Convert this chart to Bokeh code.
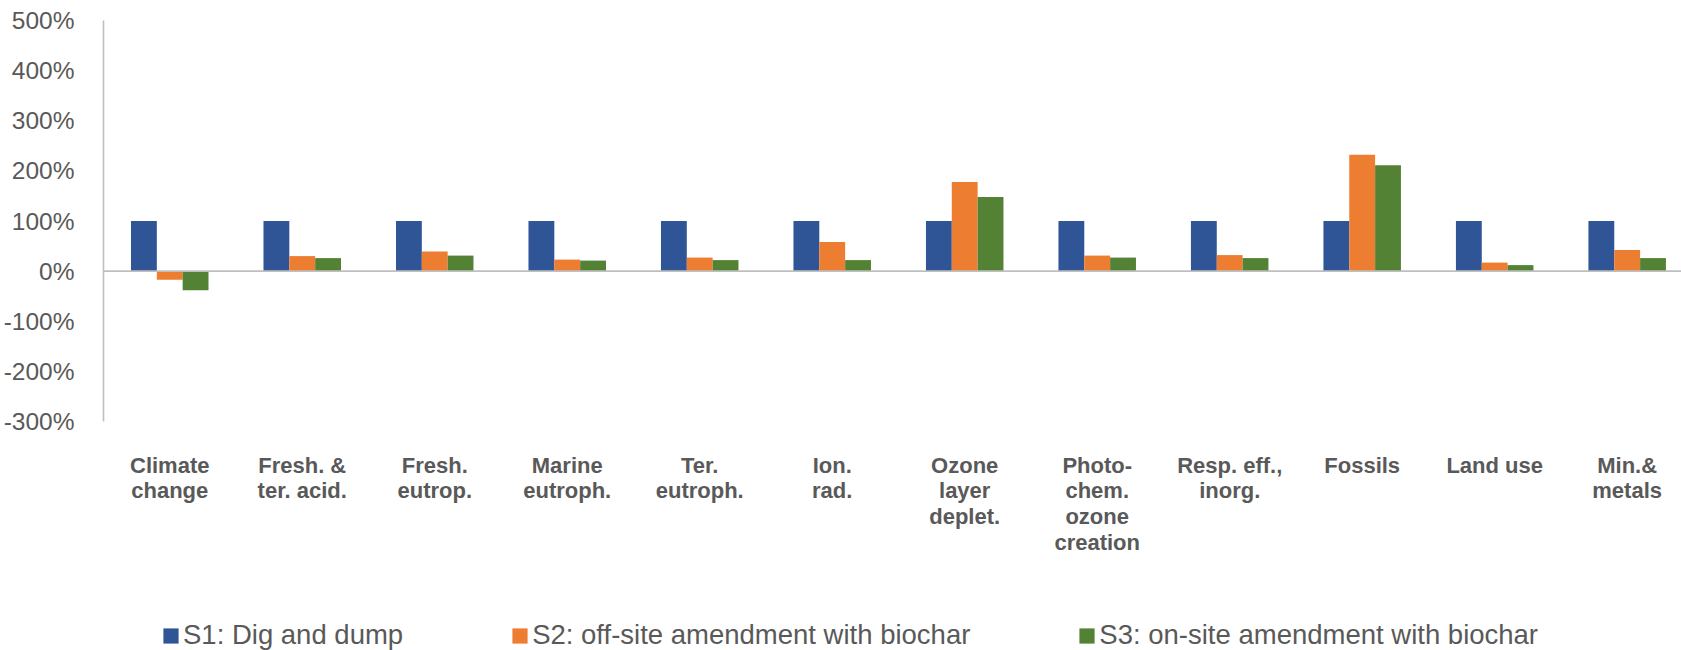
from bokeh.plotting import figure
from bokeh.models import (Range1d, FixedTicker, PrintfTickFormatter, Span,
                          Legend, LegendItem)
from bokeh.embed import file_html
from bokeh.resources import INLINE

# Impact categories (x axis) and relative results per scenario, in % of S1
categories = [
    "Climate\nchange", "Fresh. &\nter. acid.", "Fresh.\neutrop.",
    "Marine\neutroph.", "Ter.\neutroph.", "Ion.\nrad.",
    "Ozone\nlayer\ndeplet.", "Photo-\nchem.\nozone\ncreation",
    "Resp. eff.,\ninorg.", "Fossils", "Land use", "Min.&\nmetals",
]
s1_dig_dump = [100, 100, 100, 100, 100, 100, 100, 100, 100, 100, 100, 100]
s2_offsite = [-17, 30, 39, 23, 27, 58, 178, 31, 32, 232, 17, 42]
s3_onsite = [-38, 26, 31, 21, 22, 22, 148, 27, 26, 211, 12, 26]

series_names = [
    "S1: Dig and dump",
    "S2: off-site amendment with biochar",
    "S3: on-site amendment with biochar",
]
series_values = [s1_dig_dump, s2_offsite, s3_onsite]
colors = ["#2F5597", "#ED7D31", "#548235"]
y_ticks = [-300, -200, -100, 0, 100, 200, 300, 400, 500]
y_min, y_max = -300, 500

FONT = "Liberation Sans"
TEXT_GREY = "#595959"
AXIS_GREY = "#BFBFBF"

centers = [i + 0.5 for i in range(len(categories))]
bar_w = 0.195

# The frame runs to the bottom of the canvas so that the category labels and
# the legend sit inside it; the value axis itself only spans y_min..y_max.
frame_top, axis_bottom_px, canvas_h = 20, 421, 650
px_per_unit = (axis_bottom_px - frame_top) / (y_max - y_min)
y_view_min = y_min - (canvas_h - axis_bottom_px) / px_per_unit

p = figure(
    width=1681, height=canvas_h,
    output_backend="svg", toolbar_location=None,
    x_range=Range1d(0, 11.91), y_range=Range1d(y_view_min, y_max),
    min_border_left=103, min_border_right=0,
    min_border_top=frame_top, min_border_bottom=0,
)
p.outline_line_color = None
p.xgrid.visible = False
p.ygrid.visible = False
p.background_fill_color = "white"
p.border_fill_color = "white"

renderers = []
for k, (vals, col) in enumerate(zip(series_values, colors)):
    offset = (k - 1) * bar_w
    r = p.vbar(x=[c + offset for c in centers], top=vals, bottom=0,
               width=bar_w, fill_color=col, line_color=None)
    renderers.append(r)

# zero reference line
p.add_layout(Span(location=0, dimension="width", line_color=AXIS_GREY,
                  line_width=1.7))

# y axis
yax = p.yaxis[0]
yax.bounds = (y_min, y_max)
yax.ticker = FixedTicker(ticks=y_ticks)
yax.formatter = PrintfTickFormatter(format="%d%%")
yax.axis_line_color = AXIS_GREY
yax.axis_line_width = 1.6
yax.major_tick_line_color = None
yax.minor_tick_line_color = None
yax.major_label_standoff = 23
yax.major_label_text_font = FONT
yax.major_label_text_font_size = "24.5px"
yax.major_label_text_color = TEXT_GREY

# x axis with category labels, drawn under the lowest value
xax = p.xaxis[0]
xax.fixed_location = y_min
xax.ticker = FixedTicker(ticks=centers)
xax.major_label_overrides = {c: lab for c, lab in zip(centers, categories)}
xax.axis_line_color = None
xax.major_tick_line_color = None
xax.minor_tick_line_color = None
xax.major_label_standoff = 25
xax.major_label_text_font = FONT
xax.major_label_text_font_size = "22px"
xax.major_label_text_font_style = "bold"
xax.major_label_text_color = TEXT_GREY
xax.major_label_text_line_height = 1.03

legend = Legend(
    items=[LegendItem(label=n, renderers=[r]) for n, r in zip(series_names, renderers)],
    orientation="horizontal",
    location=(58, -1),
    glyph_width=19, glyph_height=19,
    label_standoff=3, spacing=107,
    padding=0, margin=0,
    border_line_color=None, background_fill_alpha=0,
    label_text_font=FONT, label_text_font_size="27.5px",
    label_text_color=TEXT_GREY,
)
p.add_layout(legend, "center")

open("out.html", "w").write(file_html(p, INLINE))
